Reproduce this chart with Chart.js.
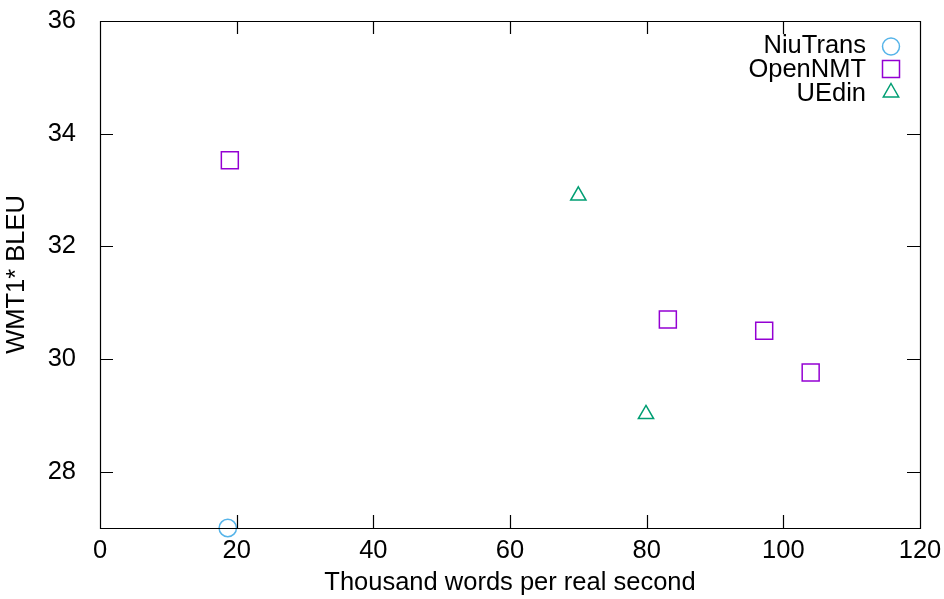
<!DOCTYPE html>
<html><head><meta charset="utf-8">
<script src="https://cdn.jsdelivr.net/npm/chart.js@4/dist/chart.umd.min.js"></script>
<style>html,body{margin:0;padding:0;background:#fff}#wrap{width:944px;height:599px}</style>
</head><body><div id="wrap"><canvas id="c" width="944" height="599"></canvas></div>
<script>
const seriesNames = ["NiuTrans", "OpenNMT", "UEdin"];
const niuTransX = [18.7];
const niuTransY = [27.0];
const openNmtX = [19.0, 83.1, 97.2, 104.0];
const openNmtY = [33.53, 30.70, 30.50, 29.76];
const uedinX = [70.0, 79.9];
const uedinY = [32.90, 29.02];
const xTicks = [0, 20, 40, 60, 80, 100, 120];
const yTicks = [28, 30, 32, 34, 36];
const xTitle = "Thousand words per real second";
const yTitle = "WMT1* BLEU";

const FONT = "'Liberation Sans', Arial, sans-serif";
const FS = 25.5;
const pts = (xs, ys) => xs.map((x, i) => ({x: x, y: ys[i]}));

const frame = {
  id: 'frame',
  afterDraw(chart) {
    const {ctx, chartArea: a, scales: {x, y}} = chart;
    ctx.save();
    ctx.strokeStyle = '#000';
    ctx.lineWidth = 1.2;
    ctx.beginPath();
    ctx.rect(Math.round(a.left) + 0.5, Math.round(a.top) + 0.5, Math.round(a.right - a.left), Math.round(a.bottom - a.top));
    const L = 13;
    xTicks.forEach(v => {
      const px = Math.round(x.getPixelForValue(v)) + 0.5;
      ctx.moveTo(px, a.bottom); ctx.lineTo(px, a.bottom - L);
      ctx.moveTo(px, a.top); ctx.lineTo(px, a.top + L);
    });
    yTicks.forEach(v => {
      const py = Math.round(y.getPixelForValue(v)) + 0.5;
      ctx.moveTo(a.left, py); ctx.lineTo(a.left + L, py);
      ctx.moveTo(a.right, py); ctx.lineTo(a.right - L, py);
    });
    ctx.stroke();
    // legend
    ctx.font = FS + 'px ' + FONT;
    ctx.textAlign = 'right';
    ctx.textBaseline = 'alphabetic';
    chart.data.datasets.forEach((ds, i) => {
      const base = 53 + i * 24;
      const cy = 46.5 + i * 22.5;
      ctx.fillStyle = '#000';
      ctx.fillText(ds.label, 866, base);
      ctx.strokeStyle = ds.borderColor;
      ctx.lineWidth = 1.5;
      ctx.beginPath();
      const cx = 891;
      if (ds.pointStyle === 'circle') {
        ctx.arc(cx, cy, 8.5, 0, Math.PI * 2);
      } else if (ds.pointStyle === 'rect') {
        ctx.rect(cx - 8.5, cy - 8.5, 17, 17);
      } else {
        ctx.moveTo(cx, cy - 8); ctx.lineTo(cx + 7.7, cy + 5.5); ctx.lineTo(cx - 7.7, cy + 5.5); ctx.closePath();
      }
      ctx.stroke();
    });
    ctx.restore();
  }
};

new Chart(document.getElementById('c'), {
  type: 'scatter',
  data: {
    datasets: [
      {label: seriesNames[0], data: pts(niuTransX, niuTransY), pointStyle: 'circle', pointRadius: 8.7, borderColor: '#56b4e9', backgroundColor: 'rgba(0,0,0,0)', borderWidth: 1.5},
      {label: seriesNames[1], data: pts(openNmtX, openNmtY), pointStyle: 'rect', pointRadius: 12, borderColor: '#9400d3', backgroundColor: 'rgba(0,0,0,0)', borderWidth: 1.5},
      {label: seriesNames[2], data: pts(uedinX, uedinY), pointStyle: 'triangle', pointRadius: 8.8, borderColor: '#009e73', backgroundColor: 'rgba(0,0,0,0)', borderWidth: 1.5}
    ]
  },
  options: {
    responsive: false,
    animation: false,
    clip: false,
    layout: {padding: {top: 21, right: 24, left: 0, bottom: 0}},
    plugins: {legend: {display: false}, tooltip: {enabled: false}},
    scales: {
      x: {
        type: 'linear', min: 0, max: 120,
        afterBuildTicks: s => { s.ticks = xTicks.map(v => ({value: v})); },
        afterFit: s => { s.height = 71; s.paddingLeft = 0; s.paddingRight = 0; },
        grid: {display: false, drawTicks: false},
        border: {display: false},
        ticks: {color: '#000', font: {family: FONT, size: FS}, padding: 8, maxRotation: 0},
        title: {display: true, text: xTitle, color: '#000', font: {family: FONT, size: FS}, padding: {top: 0, bottom: 1}}
      },
      y: {
        type: 'linear', min: 27, max: 36,
        afterBuildTicks: s => { s.ticks = yTicks.map(v => ({value: v})); },
        afterFit: s => { s.width = 100; s.paddingTop = 0; s.paddingBottom = 0; },
        grid: {display: false, drawTicks: false},
        border: {display: false},
        ticks: {color: '#000', font: {family: FONT, size: FS}, padding: 24},
        title: {display: true, text: yTitle, color: '#000', font: {family: FONT, size: FS}, padding: {top: 2, bottom: 0}}
      }
    }
  },
  plugins: [frame]
});
</script></body></html>
